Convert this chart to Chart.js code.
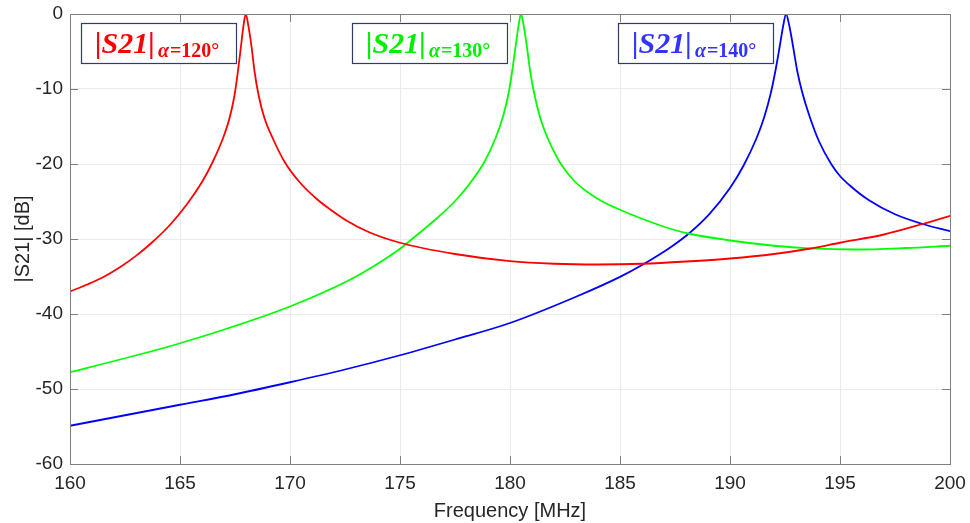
<!DOCTYPE html>
<html>
<head>
<meta charset="utf-8">
<script src="https://cdn.jsdelivr.net/npm/chart.js@4/dist/chart.umd.min.js"></script>
<style>
  html, body { margin: 0; padding: 0; background: #fff; }
  #wrap { width: 970px; height: 523px; }
</style>
</head>
<body>
<div id="wrap"><canvas id="grafico" width="970" height="523"></canvas></div>
<script>
// frequencies [MHz] and |S21| [dB]
const freqRed = [160, 160.75, 161.5, 162.25, 163, 163.75, 164.52, 165.28, 166.04, 166.49, 166.95, 167.25,
  167.48, 167.63, 167.78, 167.89, 167.99, 168.1, 168.24, 168.39, 168.57, 168.84, 169.22, 169.75, 170.43,
  171.19, 171.8, 172.6, 173.6, 175, 177.5, 180, 182, 184, 186, 188, 190, 192, 193.6, 195, 197, 198.75, 200];
const dbRed = [-37.0, -36.1, -35.1, -33.8, -32.25, -30.4, -28.2, -25.5, -22.2, -19.7, -16.6, -13.9,
  -10.8, -7.7, -4.1, -1.45, 0, -1.45, -4.1, -7.7, -10.8, -13.9, -16.6, -19.7, -22.4,
  -24.6, -26.0, -27.6, -29.1, -30.5, -32.0, -32.95, -33.3, -33.4, -33.3, -33.0, -32.6, -32.0, -31.3, -30.5, -29.4, -28.0, -26.9];

const freqGreen = [160, 162.5, 165, 167.5, 170, 172.55, 173.6, 175, 175.55, 176.65, 177.52, 178.3,
  178.86, 179.35, 179.69, 179.94, 180.1, 180.27, 180.39, 180.5, 180.62, 180.76, 180.92, 181.1,
  181.38, 181.75, 182.25, 182.9, 183.6, 184.2, 185, 186, 187.25, 188.16, 190, 192, 193.6, 195.7, 198, 200];
const dbGreen = [-47.75, -45.9, -43.9, -41.6, -39.0, -35.7, -34.0, -31.3, -30.0, -27.3, -24.9, -22.1,
  -19.6, -16.5, -13.6, -10.5, -7.6, -4.0, -1.5, 0, -1.5, -4.2, -7.7, -10.6,
  -13.9, -16.8, -19.7, -22.2, -23.9, -25.0, -26.1, -27.3, -28.6, -29.3, -30.2, -30.9, -31.25, -31.4, -31.2, -30.9];

const freqBlue = [160, 162.5, 165, 167.5, 170, 172.5, 175, 177.5, 180, 183, 185, 186.04, 187.25,
  188.16, 189.07, 190, 190.6, 191.2, 191.55, 191.85, 192.05, 192.25, 192.41, 192.55, 192.69,
  192.86, 193.05, 193.27, 193.6, 194.05, 194.6, 195, 195.5, 196.3, 197.5, 198.76, 200];
const dbBlue = [-54.9, -53.5, -52.1, -50.7, -49.1, -47.4, -45.5, -43.4, -41.2, -37.7, -35.05, -33.4, -31.2,
  -29.2, -26.65, -23.2, -20.3, -16.6, -13.8, -10.6, -7.8, -4.5, -1.7, 0, -1.5,
  -4.2, -7.5, -10.3, -13.5, -17.0, -20.0, -21.6, -23.0, -24.8, -26.7, -28.0, -28.95];

const xTicks = [160, 165, 170, 175, 180, 185, 190, 195, 200];
const yTicks = [-60, -50, -40, -30, -20, -10, 0];
const labels = ['120°', '130°', '140°'];

function pares(xs, ys) {
    return xs.map((x, i) => ({ x: x, y: ys[i] }));
}

const corTexto = '#262626';
const fonteEixo = "'Liberation Sans', Arial, sans-serif";

// caixas |S21| com subscrito, ticks internos e moldura estilo MATLAB
const extras = {
    id: 'extras',
    afterDatasetsDraw(chart) {
        const c = chart.ctx;
        const a = chart.chartArea;
        const sx = chart.scales.x, sy = chart.scales.y;
        c.save();
        c.strokeStyle = '#808080';
        c.lineWidth = 1;
        c.beginPath();
        xTicks.forEach(v => {
            const px = Math.round(sx.getPixelForValue(v)) + 0.5;
            c.moveTo(px, a.bottom); c.lineTo(px, a.bottom - 8);
            c.moveTo(px, a.top); c.lineTo(px, a.top + 8);
        });
        yTicks.forEach(v => {
            const py = Math.round(sy.getPixelForValue(v)) + 0.5;
            c.moveTo(a.left, py); c.lineTo(a.left + 8, py);
            c.moveTo(a.right, py); c.lineTo(a.right - 8, py);
        });
        c.stroke();
        c.strokeRect(Math.round(a.left) + 0.5, Math.round(a.top) + 0.5,
            Math.round(a.right - a.left), Math.round(a.bottom - a.top));

        const caixas = [
            { x: 81, cor: '#ff0000' },
            { x: 352, cor: '#00ee00' },
            { x: 618, cor: '#3333ff' }
        ];
        caixas.forEach((b, i) => {
            c.fillStyle = '#ffffff';
            c.fillRect(b.x, 23.5, 155, 40);
            c.strokeStyle = '#2f3d66';
            c.lineWidth = 1.2;
            c.strokeRect(b.x + 0.5, 23.5, 155, 40);
            c.fillStyle = b.cor;
            c.textBaseline = 'alphabetic';
            c.textAlign = 'left';
            c.font = "bold italic 30px 'Liberation Serif', 'DejaVu Serif', serif";
            c.fillText('|S21|', b.x + 14, 53);
            const w = c.measureText('|S21|').width;
            c.font = "bold italic 20px 'Liberation Serif', 'DejaVu Serif', serif";
            c.fillText('α', b.x + 17 + w, 57);
            const wa = c.measureText('α').width;
            c.font = "bold 20px 'Liberation Serif', 'DejaVu Serif', serif";
            c.fillText('=' + labels[i], b.x + 18 + w + wa, 57);
        });
        c.restore();
    }
};

const ctx = document.getElementById('grafico').getContext('2d');

const grafico = new Chart(ctx, {
    type: 'line',
    data: {
        datasets: [
            { label: 'α=120°', data: pares(freqRed, dbRed), borderColor: '#ff0000' },
            { label: 'α=130°', data: pares(freqGreen, dbGreen), borderColor: '#00ff00' },
            { label: 'α=140°', data: pares(freqBlue, dbBlue), borderColor: '#0000ff' }
        ]
    },
    options: {
        responsive: false,
        animation: false,
        layout: { padding: { top: 14, right: 20, left: 0, bottom: 0 } },
        elements: {
            point: { radius: 0 },
            line: { borderWidth: 1.8, cubicInterpolationMode: 'monotone', fill: false }
        },
        plugins: {
            legend: { display: false },
            tooltip: { enabled: false }
        },
        scales: {
            x: {
                type: 'linear',
                min: 160,
                max: 200,
                afterBuildTicks: s => { s.ticks = xTicks.map(v => ({ value: v })); },
                afterFit: s => { s.height = 59; s.paddingLeft = 0; s.paddingRight = 0; },
                ticks: { color: corTexto, font: { family: fonteEixo, size: 19 }, padding: 8, maxRotation: 0 },
                grid: { color: '#ebebeb', drawTicks: false },
                border: { color: '#808080' },
                title: {
                    display: true,
                    text: 'Frequency [MHz]',
                    color: corTexto,
                    font: { family: fonteEixo, size: 20 },
                    padding: { top: 0, bottom: 0 }
                }
            },
            y: {
                min: -60,
                max: 0,
                afterBuildTicks: s => { s.ticks = yTicks.map(v => ({ value: v })); },
                afterFit: s => { s.width = 70; s.paddingTop = 0; s.paddingBottom = 0; },
                ticks: { color: corTexto, font: { family: fonteEixo, size: 19 }, padding: 7 },
                grid: { color: '#ebebeb', drawTicks: false },
                border: { color: '#808080' },
                title: {
                    display: true,
                    text: '|S21| [dB]',
                    color: corTexto,
                    font: { family: fonteEixo, size: 20 },
                    padding: { top: 11, bottom: 0 }
                }
            }
        }
    },
    plugins: [extras]
});
</script>
</body>
</html>
